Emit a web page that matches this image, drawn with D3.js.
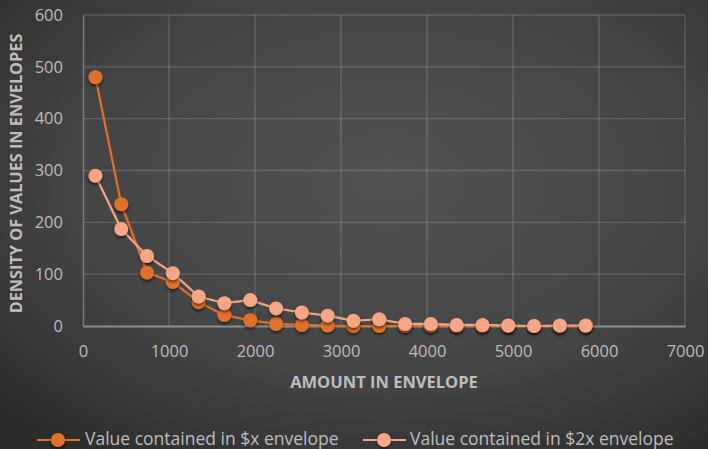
<!DOCTYPE html>
<html><head><meta charset="utf-8">
<script src="https://cdn.jsdelivr.net/npm/d3@7"></script>
<style>html,body{margin:0;padding:0;background:#3a3a3a;overflow:hidden}</style>
</head><body>
<script>
const amounts = [145, 445, 745, 1045, 1345, 1645, 1945, 2245, 2545, 2845, 3145, 3445, 3745, 4045, 4345, 4645, 4945, 5245, 5545, 5845];
const seriesX = [480, 235, 103, 85, 46, 21, 11, 4, 2, 1, 0, 0, 0, 0, 0, 0, 0, 0, 0, 0];
const series2X = [290, 187, 135, 102, 57, 44, 50, 34, 26, 20, 10, 13, 4, 4, 2, 2, 1, 0, 1, 1];
const xTicks = [0, 1000, 2000, 3000, 4000, 5000, 6000, 7000];
const yTicks = [0, 100, 200, 300, 400, 500, 600];
const seriesNames = ["Value contained in $x envelope", "Value contained in $2x envelope"];
const seriesColors = ["#E0702A", "#F4A687"];

const W = 708, H = 449;
const FONT = "'Open Sans', sans-serif";
const svg = d3.select("body").append("svg").attr("width", W).attr("height", H);
const defs = svg.append("defs");
const rg = defs.append("radialGradient").attr("id","bg").attr("cx","55%").attr("cy","40%").attr("r","75%");
rg.append("stop").attr("offset","0%").attr("stop-color","#525252");
rg.append("stop").attr("offset","60%").attr("stop-color","#444444");
rg.append("stop").attr("offset","100%").attr("stop-color","#2c2c2c");
const f = defs.append("filter").attr("id","sh").attr("x","-50%").attr("y","-50%").attr("width","200%").attr("height","200%");
f.append("feDropShadow").attr("dx",0).attr("dy",2).attr("stdDeviation",1.6).attr("flood-color","#000").attr("flood-opacity",0.6);

svg.append("rect").attr("width",W).attr("height",H).attr("fill","url(#bg)");

const x = d3.scaleLinear().domain([0,7000]).range([83,685]);
const y = d3.scaleLinear().domain([0,600]).range([326,15]);

const grid = svg.append("g");
grid.selectAll("line.h").data(yTicks.filter(d=>d>0)).join("line")
  .attr("x1",x(0)).attr("x2",x(7000)).attr("y1",d=>y(d)).attr("y2",d=>y(d))
  .attr("stroke","#ffffff").attr("stroke-opacity",0.16).attr("stroke-width",1.3);
grid.selectAll("line.v").data(xTicks.filter(d=>d>0)).join("line")
  .attr("x1",d=>x(d)).attr("x2",d=>x(d)).attr("y1",y(0)).attr("y2",y(600))
  .attr("stroke","#ffffff").attr("stroke-opacity",0.16).attr("stroke-width",1.3);

const xAxis = svg.append("g").attr("transform",`translate(0,${y(0)})`)
  .call(d3.axisBottom(x).tickValues(xTicks).tickSize(0).tickPadding(19).tickFormat(d3.format("d")));
const yAxis = svg.append("g").attr("transform",`translate(${x(0)},0)`)
  .call(d3.axisLeft(y).tickValues(yTicks).tickSize(0).tickPadding(20).tickFormat(d3.format("d")));
[xAxis,yAxis].forEach(a=>{
  a.select(".domain").attr("stroke","#8c8c8c").attr("stroke-width",2);
  a.selectAll("text").attr("fill","#bdbdbd").style("font-family",FONT).style("font-size","16.5px");
});
yAxis.select(".domain").attr("stroke","#7a7a7a").attr("stroke-width",1.5);

svg.append("text").attr("x",384).attr("y",388).attr("text-anchor","middle")
  .attr("fill","#bdbdbd").style("font-family",FONT).style("font-weight","bold").style("font-size","16.5px")
  .text("AMOUNT IN ENVELOPE");
svg.append("text").attr("transform","translate(21.5,173.5) rotate(-90)").attr("text-anchor","middle")
  .attr("fill","#bdbdbd").style("font-family",FONT).style("font-weight","bold").style("font-size","16.3px")
  .text("DENSITY OF VALUES IN ENVELOPES");

const data = [seriesX, series2X];
const line = d3.line().x((d,i)=>x(amounts[i])).y(d=>y(d));
data.forEach((s,k)=>{
  const g = svg.append("g");
  g.append("path").datum(s).attr("d",line).attr("fill","none").attr("stroke",seriesColors[k]).attr("stroke-width",2.2);
  g.selectAll("circle").data(s).join("circle")
    .attr("cx",(d,i)=>x(amounts[i])).attr("cy",d=>y(d)).attr("r",7)
    .attr("fill",seriesColors[k]).attr("filter","url(#sh)");
});

const leg = svg.append("g");
const legItems = [{x0:37, tx:85},{x0:363, tx:410}];
legItems.forEach((it,k)=>{
  leg.append("line").attr("x1",it.x0).attr("x2",it.x0+43).attr("y1",440).attr("y2",440)
    .attr("stroke",seriesColors[k]).attr("stroke-width",2.2);
  leg.append("circle").attr("cx",it.x0+21).attr("cy",440).attr("r",7).attr("fill",seriesColors[k]).attr("filter","url(#sh)");
  leg.append("text").attr("x",it.tx).attr("y",445).attr("fill","#bdbdbd")
    .style("font-family",FONT).style("font-size","17.5px").text(seriesNames[k]);
});
</script>
</body></html>
